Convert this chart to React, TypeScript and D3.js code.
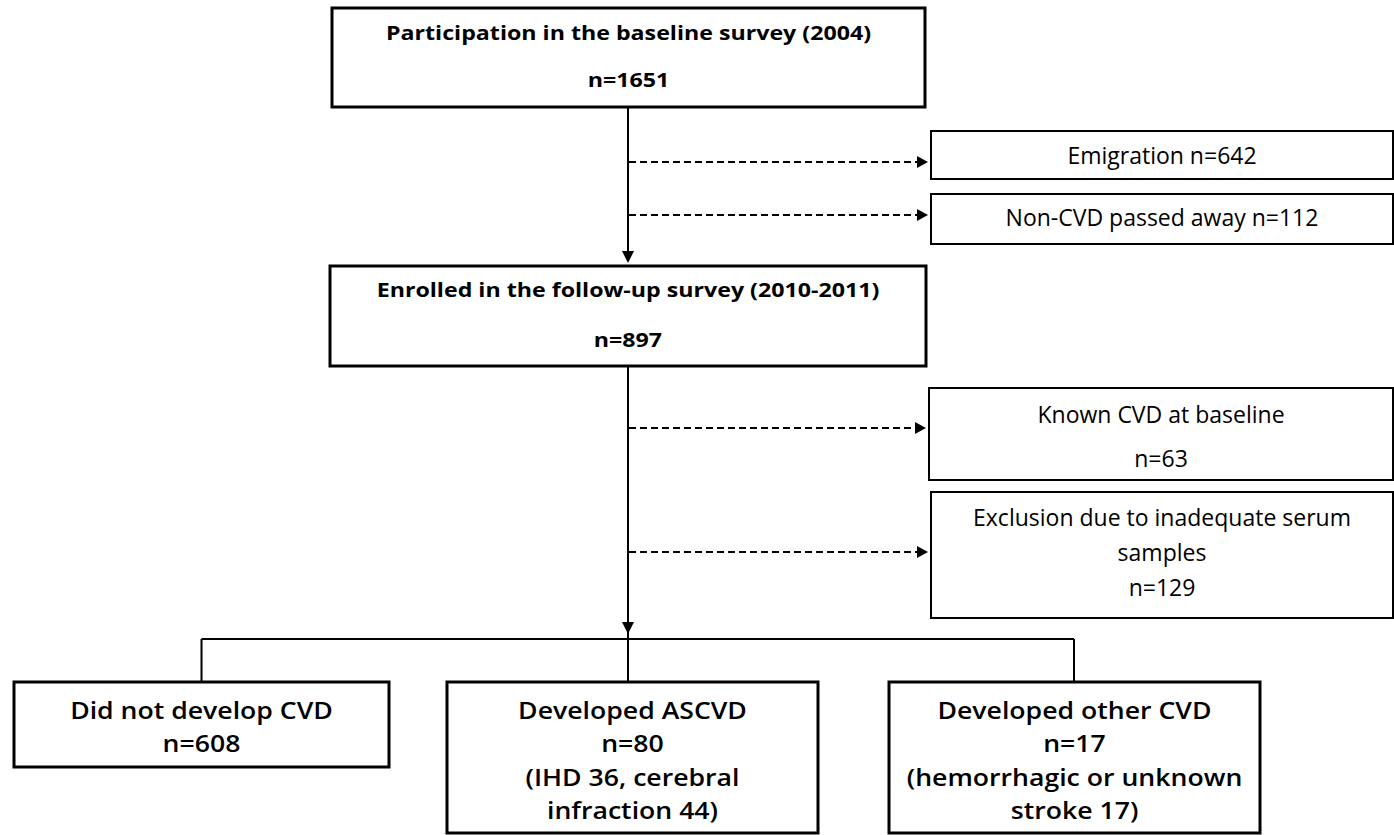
import React, { useEffect, useRef } from "react";
import * as d3 from "d3";

// ---- data ----
const stageLabels = [
  "Participation in the baseline survey (2004)",
  "Enrolled in the follow-up survey (2010-2011)",
];
const stageCounts = [1651, 897];

const exclusionLabels = [
  "Emigration",
  "Non-CVD passed away",
  "Known CVD at baseline",
  "Exclusion due to inadequate serum samples",
];
const exclusionCounts = [642, 112, 63, 129];

const outcomeLabels = ["Did not develop CVD", "Developed ASCVD", "Developed other CVD"];
const outcomeCounts = [608, 80, 17];
const outcomeDetails = ["", "(IHD 36, cerebral infraction 44)", "(hemorrhagic or unknown stroke 17)"];

// ---- layout ----
const W = 1394;
const H = 835;
const MAIN_X = 628;

const stageLayout = [
  { x0: 332, x1: 925, y0: 8, y1: 107, lineY: [33, 80] },
  { x0: 330, x1: 926, y0: 266, y1: 366, lineY: [290, 340] },
];

// inline: count on same line; wrap: words per line for label
const exclusionLayout = [
  { x0: 931, x1: 1393, y0: 131, y1: 179, arrowY: 162, inline: true, wrap: [], lineY: [156] },
  { x0: 931, x1: 1393, y0: 194, y1: 244, arrowY: 215, inline: true, wrap: [], lineY: [218] },
  { x0: 929, x1: 1393, y0: 388, y1: 480, arrowY: 428, inline: false, wrap: [4], lineY: [415, 459] },
  { x0: 931, x1: 1393, y0: 492, y1: 618, arrowY: 552, inline: false, wrap: [5, 1], lineY: [518, 553, 588] },
];

const outcomeLayout = [
  { x0: 14, x1: 389, y0: 682, y1: 767, wrap: [], lineY: [710, 743] },
  { x0: 447, x1: 818, y0: 682, y1: 833, wrap: [3, 2], lineY: [710, 743, 777, 810] },
  { x0: 889, x1: 1260, y0: 682, y1: 833, wrap: [3, 2], lineY: [710, 743, 777, 810] },
];

const BRANCH_Y = 639;
const BRANCH_RIGHT_X = 1074;

function wrapWords(text: string, wrap: number[]): string[] {
  if (!text) return [];
  if (!wrap.length) return [text];
  const words = text.split(" ");
  const out: string[] = [];
  let i = 0;
  wrap.forEach((n) => {
    out.push(words.slice(i, i + n).join(" "));
    i += n;
  });
  if (i < words.length) out.push(words.slice(i).join(" "));
  return out;
}

export default function App() {
  const ref = useRef<SVGSVGElement | null>(null);

  useEffect(() => {
    const svg = d3.select(ref.current);
    svg.selectAll("*").remove();
    svg.append("rect").attr("width", W).attr("height", H).attr("fill", "#fff");

    const g = svg.append("g");

    // main trunk with arrows
    const lines = g.append("g").attr("stroke", "#000").attr("fill", "none");
    lines.append("line").attr("x1", MAIN_X).attr("x2", MAIN_X).attr("y1", stageLayout[0].y1).attr("y2", stageLayout[1].y0 - 6).attr("stroke-width", 2);
    lines.append("line").attr("x1", MAIN_X).attr("x2", MAIN_X).attr("y1", stageLayout[1].y1).attr("y2", outcomeLayout[1].y0).attr("stroke-width", 2);

    const downArrow = (tipY: number) => {
      const p = d3.path();
      p.moveTo(MAIN_X - 6, tipY - 12);
      p.lineTo(MAIN_X + 6, tipY - 12);
      p.lineTo(MAIN_X, tipY);
      p.closePath();
      g.append("path").attr("d", p.toString()).attr("fill", "#000");
    };
    downArrow(stageLayout[1].y0 - 3);
    downArrow(BRANCH_Y - 5);

    // branch
    const leftX = (outcomeLayout[0].x0 + outcomeLayout[0].x1) / 2;
    lines.append("line").attr("x1", leftX).attr("x2", BRANCH_RIGHT_X).attr("y1", BRANCH_Y).attr("y2", BRANCH_Y).attr("stroke-width", 2);
    [leftX, BRANCH_RIGHT_X].forEach((x) => {
      lines.append("line").attr("x1", x).attr("x2", x).attr("y1", BRANCH_Y).attr("y2", outcomeLayout[0].y0).attr("stroke-width", 2);
    });

    // exclusion arrows (dashed)
    exclusionLayout.forEach((b) => {
      const tip = b.x0 - 3;
      g.append("line")
        .attr("x1", MAIN_X + 1).attr("x2", tip - 8)
        .attr("y1", b.arrowY).attr("y2", b.arrowY)
        .attr("stroke", "#000").attr("stroke-width", 2)
        .attr("stroke-dasharray", "7,4");
      const p = d3.path();
      p.moveTo(tip - 11, b.arrowY - 6);
      p.lineTo(tip, b.arrowY);
      p.lineTo(tip - 11, b.arrowY + 6);
      p.closePath();
      g.append("path").attr("d", p.toString()).attr("fill", "#000");
    });

    // one <text> per box, lines as tspans; horizontal scale via transform
    const addBlock = (
      cx: number, ys: number[], strs: string[], family: string, size: number, weight: string | number, stretch: number
    ) => {
      const t = g.append("g")
        .attr("transform", `translate(${cx},0) scale(${stretch},1)`)
        .append("text")
        .attr("text-anchor", "middle")
        .attr("font-family", family)
        .attr("font-size", size)
        .attr("font-weight", weight)
        .attr("fill", "#000");
      strs.forEach((s, j) => {
        t.append("tspan").attr("x", 0).attr("y", ys[j] + size * 0.36).text(s);
      });
    };

    // stage boxes
    stageLayout.forEach((b, i) => {
      g.append("rect").attr("x", b.x0).attr("y", b.y0).attr("width", b.x1 - b.x0).attr("height", b.y1 - b.y0)
        .attr("fill", "none").attr("stroke", "#000").attr("stroke-width", 3);
      addBlock((b.x0 + b.x1) / 2, b.lineY, [stageLabels[i], `n=${stageCounts[i]}`], "'Open Sans', sans-serif", 20, "bold", 1.16);
    });

    // exclusion boxes
    exclusionLayout.forEach((b, i) => {
      g.append("rect").attr("x", b.x0).attr("y", b.y0).attr("width", b.x1 - b.x0).attr("height", b.y1 - b.y0)
        .attr("fill", "#fff").attr("stroke", "#000").attr("stroke-width", 2);
      const txt = b.inline
        ? [`${exclusionLabels[i]} n=${exclusionCounts[i]}`]
        : [...wrapWords(exclusionLabels[i], b.wrap), `n=${exclusionCounts[i]}`];
      addBlock((b.x0 + b.x1) / 2, b.lineY, txt, "'Open Sans', sans-serif", 23, "normal", 1.0);
    });

    // outcome boxes
    outcomeLayout.forEach((b, i) => {
      g.append("rect").attr("x", b.x0).attr("y", b.y0).attr("width", b.x1 - b.x0).attr("height", b.y1 - b.y0)
        .attr("fill", "#fff").attr("stroke", "#000").attr("stroke-width", 3);
      const txt = [outcomeLabels[i], `n=${outcomeCounts[i]}`, ...wrapWords(outcomeDetails[i], b.wrap)];
      addBlock((b.x0 + b.x1) / 2, b.lineY, txt, "'Open Sans', sans-serif", 24, 600, 1.11);
    });
  }, []);

  return (
    <svg ref={ref} width={W} height={H} style={{ display: "block", position: "absolute", left: 0, top: 0 }} />
  );
}
